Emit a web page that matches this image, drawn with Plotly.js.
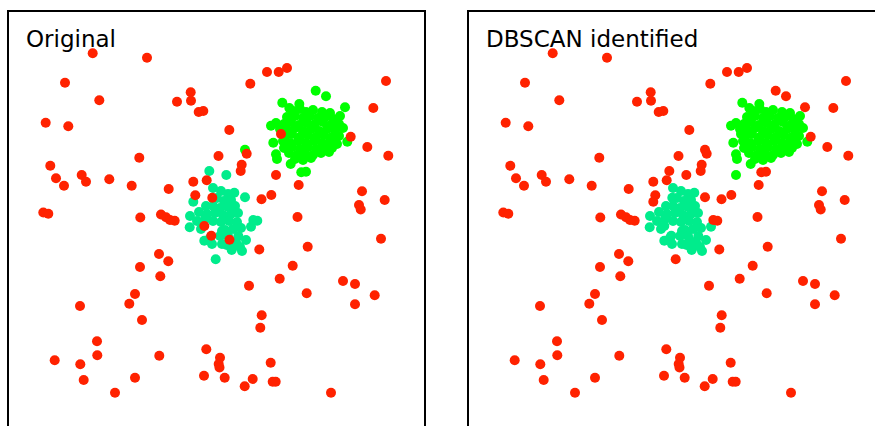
<!DOCTYPE html>
<html>
<head>
<meta charset="utf-8">
<script src="https://cdn.plot.ly/plotly-3.0.1.min.js"></script>
<style>
html,body{margin:0;padding:0;overflow:hidden;background:#fff;}
#chart{width:890px;height:440px;}
</style>
</head>
<body>
<div id="chart"></div>
<script>
// Points that are noise in both labelings
const noiseX = [92.7,147,65,99.3,190.7,177,191,198.7,203.3,45.7,68.3,139.3,218.5,50.3,56,64,81.7,86,109.3,131.7,168.7,193.3,206.7,195.3,43.3,48.3,140.3,161,166,170,174.7,159,168.3,140,160.3,135,129.3,80,142,97,97.3,54.7,80.3,83.7,115,135,159.3,206.3,220,218.7,219.5,204,297.5,359,360.7,381,259.3,307.7,292.7,279.7,249,306.7,343,355,374.7,355,261.7,260.3,224.7,270.7,252.7,244.7,272.7,275.7,331,267,278.7,287,250.3,386,373.3,229.3,350.7,367.3,388.3,246.7,241.7,240.7,298.7,362,384.7,271.3,261.5];
const noiseY = [53.3,57.7,82.7,100.3,92.3,101.7,100.7,112,111,122.7,126.3,157.7,156,165.7,178.3,185.7,175,181.7,179.3,185.7,189,181.7,180.3,195.3,212.5,213.8,217.5,214.5,217.3,220,220.7,254,261.3,267,276.3,294,303.7,306,320,341.3,355.3,360.3,364.3,380,392.7,377.7,355.7,349.3,357.7,364,367.5,375.7,217,205,209.5,238.7,249.5,246.7,265.7,278.7,285.7,293.3,281,284,295.3,304.3,315.3,327.7,377.7,362.7,379,386.3,381.7,381.7,392.7,72,72,68,83.7,81,108,130,136.7,147,155.7,153.7,164.7,171,185,191.3,200,195,199.2];

// Green cluster in both labelings
const greenX = [282.3,289.3,299.3,271,273.3,276,277,290.7,347.3,
  293,300,306,313,322,330,
  287,295,303,310,318,325,333,340,
  276,284,291,299,307,315,323,331,339,
  280,287,295,303,311,319,327,335,343,
  285,292,300,308,316,324,332,339,
  283,290,298,306,314,322,330,337,
  284,292,300,308,316,324,332,
  289,297,305,313,321,329,
  295,303,311];
const greenY = [102.7,108,104,125.7,142.7,154.3,159,164,141.7,
  111,109,112,110,112,113,
  117,116,118,116,118,117,119,116,
  123,124,122,125,123,124,122,125,124,
  129,130,128,131,129,131,129,130,128,
  136,134,137,135,137,135,137,136,
  141,143,141,143,141,143,141,144,
  148,147,149,147,149,147,148,
  153,155,153,155,153,152,
  159,160,158];

// Teal cluster in both labelings
const tealX = [190,189.7,204.3,242,231.7,226.7,234.3,251,238.3,
  213,221,228,217,224,231,206,213,220,228,235,199,207,215,223,231,238,197,205,213,221,229,237,201,222,225,233,241,210,220,228,236,222,232,240,212,246];
const tealY = [216,227.3,240.7,251,250,245,192.7,226.7,236,
  188,191,194,198,201,200,206,206,208,207,206,212,214,213,215,214,213,221,219,221,222,221,222,229,231,230,229,228,238,236,236,242,244,246,247,244,240];

// Points whose label differs between the two panels
const greenToNoiseX = [315.7,326,345,245,301.3,306];
const greenToNoiseY = [90.7,96.3,107.3,149.7,172.3,171.7];
const noiseToGreenX = [281,276];
const noiseToGreenY = [134,175];
const tealToNoiseX = [209.3,226.3,193.3,215.7,245,253.3,257.3];
const tealToNoiseY = [171,175,201.7,259.2,197.3,220,220.7];
const noiseToTealX = [212.3,204.3,211.3,229.5];
const noiseToTealY = [197.7,226,235.7,239.8];

const panelTitles = ["Original", "DBSCAN identified"];

const RED = '#ff2200', GREEN = '#00ff00', TEAL = '#00ec8c';
const W = 890, H = 440;

function tr(x, y, color, ax) {
  return {x: x, y: y, type: 'scatter', mode: 'markers', xaxis: ax.x, yaxis: ax.y,
    marker: {color: color, size: 10, line: {width: 0}}, hoverinfo: 'skip', showlegend: false};
}
const a1 = {x: 'x', y: 'y'}, a2 = {x: 'x2', y: 'y2'};
const data = [
  // Original
  tr(greenX.concat(greenToNoiseX), greenY.concat(greenToNoiseY), GREEN, a1),
  tr(tealX.concat(tealToNoiseX), tealY.concat(tealToNoiseY), TEAL, a1),
  tr(noiseX.concat(noiseToGreenX, noiseToTealX), noiseY.concat(noiseToGreenY, noiseToTealY), RED, a1),
  // DBSCAN
  tr(greenX.concat(noiseToGreenX), greenY.concat(noiseToGreenY), GREEN, a2),
  tr(tealX.concat(noiseToTealX), tealY.concat(noiseToTealY), TEAL, a2),
  tr(noiseX.concat(greenToNoiseX, tealToNoiseX), noiseY.concat(greenToNoiseY, tealToNoiseY), RED, a2)
];

const xr = [8.5, 424], yr = [429, 12];
function axis(dom, anchor, range) {
  return {domain: dom, anchor: anchor, range: range, showline: true, mirror: true,
    linecolor: '#000', linewidth: 2, showgrid: false, zeroline: false,
    showticklabels: false, ticks: '', fixedrange: true};
}
const layout = {
  width: W, height: H, margin: {l: 0, r: 0, t: 0, b: 0},
  paper_bgcolor: '#fff', plot_bgcolor: '#fff', showlegend: false,
  xaxis: axis([8.5 / W, 424 / W], 'y', xr),
  yaxis: axis([(H - 429) / H, (H - 12) / H], 'x', yr),
  xaxis2: axis([468.5 / W, 884 / W], 'y2', xr),
  yaxis2: axis([(H - 429) / H, (H - 12) / H], 'x2', yr),
  annotations: [
    {text: panelTitles[0], xref: 'paper', yref: 'paper', x: 24 / W, y: (H - 39) / H,
     xanchor: 'left', yanchor: 'middle', showarrow: false,
     font: {family: 'DejaVu Sans', size: 23, color: '#000'}},
    {text: panelTitles[1], xref: 'paper', yref: 'paper', x: 484 / W, y: (H - 39) / H,
     xanchor: 'left', yanchor: 'middle', showarrow: false,
     font: {family: 'DejaVu Sans', size: 23, color: '#000'}}
  ]
};
Plotly.newPlot('chart', data, layout, {displayModeBar: false, staticPlot: true});
</script>
</body>
</html>
